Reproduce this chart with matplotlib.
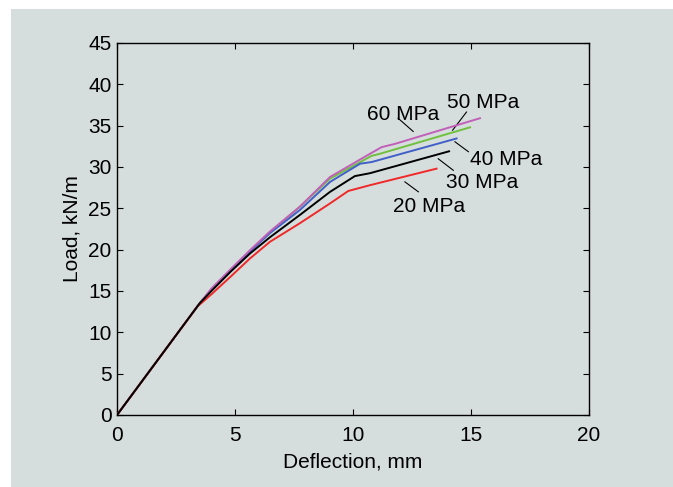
import matplotlib
matplotlib.use('Agg')
import matplotlib.pyplot as plt
from matplotlib.patches import Rectangle

plt.rcParams['font.family'] = ['Liberation Sans', 'DejaVu Sans']

# Curvas carga x deflexão para cada resistência do concreto
x_20 = [0, 3.4, 4.0, 4.8, 5.64, 6.48, 7.75, 9.03, 9.8, 10.72, 13.54]
y_20 = [0, 13.1, 14.6, 16.7, 18.95, 20.95, 23.2, 25.6, 27.1, 27.8, 29.8]

x_30 = [0, 3.5, 4.0, 4.8, 5.64, 6.48, 7.75, 9.03, 10.08, 10.72, 14.07]
y_30 = [0, 13.5, 15.0, 17.3, 19.55, 21.5, 24.2, 27.0, 28.9, 29.25, 31.9]

x_40 = [0, 3.5, 4.0, 4.8, 5.64, 6.48, 7.75, 9.03, 10.3, 10.79, 14.39]
y_40 = [0, 13.5, 15.1, 17.4, 19.8, 22.0, 24.8, 28.2, 30.4, 30.6, 33.45]

x_50 = [0, 3.5, 4.0, 4.8, 5.64, 6.48, 7.75, 9.03, 10.79, 11.14, 14.96]
y_50 = [0, 13.5, 15.2, 17.5, 19.85, 22.1, 25.2, 28.6, 31.35, 31.6, 34.8]

x_60 = [0, 3.5, 4.0, 4.8, 5.64, 6.48, 7.75, 9.03, 10.72, 11.21, 11.78, 15.38]
y_60 = [0, 13.5, 15.3, 17.6, 19.95, 22.2, 25.2, 28.8, 31.6, 32.4, 32.8, 35.9]

rotulos = ['20 MPa', '30 MPa', '40 MPa', '50 MPa', '60 MPa']
# posição do texto (linha de base) e linha de chamada (em coordenadas de dados)
pos_texto = [(11.71, 24.58), (13.93, 27.41), (14.96, 30.23), (13.97, 37.08), (10.58, 35.67)]
linhas_chamada = [((12.2, 28.2), (12.77, 27.0)),
                  ((13.61, 31.0), (14.25, 29.6)),
                  ((14.32, 33.05), (14.89, 31.85)),
                  ((14.81, 36.65), (14.22, 34.45)),
                  ((11.91, 35.9), (12.55, 34.3))]

cinza = '#d6dedd'
fs = 15

fig = plt.figure(figsize=(6.73, 4.87), dpi=100, facecolor='white')
fig.patches.append(Rectangle((11 / 673, 0), 1 - 11 / 673, 1 - 9 / 487,
                             transform=fig.transFigure, facecolor=cinza,
                             edgecolor='none', zorder=-10))

ax = fig.add_axes([117 / 673, 1 - 415 / 487, 472 / 673, 372 / 487])
ax.set_facecolor(cinza)

lw = 1.4
ax.plot(x_50, y_50, color='#70c040', linewidth=lw, zorder=2)
ax.plot(x_40, y_40, color='#4060c8', linewidth=lw, zorder=2)
ax.plot(x_60, y_60, color='#c060b8', linewidth=lw, zorder=3)
ax.plot(x_20, y_20, color='#f02828', linewidth=lw, zorder=3)
ax.plot(x_30, y_30, color='black', linewidth=lw, zorder=4)

for rot, (tx, ty), ((x1, y1), (x2, y2)) in zip(rotulos, pos_texto, linhas_chamada):
    ax.text(tx, ty, rot, fontsize=fs, ha='left', va='baseline')
    ax.plot([x1, x2], [y1, y2], color='black', linewidth=0.8)

ax.set_xlim(0, 20)
ax.set_ylim(0, 45)
ax.set_xticks([0, 5, 10, 15, 20])
ax.set_yticks(range(0, 46, 5))
ax.tick_params(direction='in', top=True, right=True, length=4, labelsize=fs)
ax.tick_params(axis='x', pad=8)
ax.tick_params(axis='y', pad=4)
for s in ax.spines.values():
    s.set_linewidth(1.0)

ax.set_xlabel('Deflection, mm', fontsize=fs, labelpad=5)
ax.set_ylabel('Load, kN/m', fontsize=fs, labelpad=5)

plt.savefig('out.png', dpi=100, facecolor='white')
